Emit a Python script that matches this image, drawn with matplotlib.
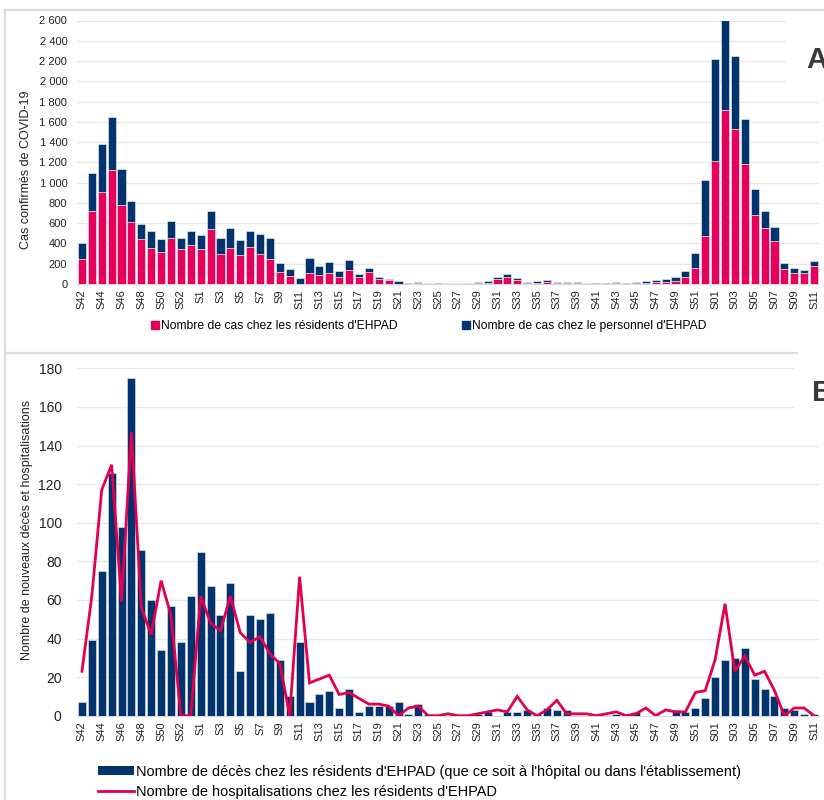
import matplotlib
matplotlib.use("Agg")
import matplotlib.pyplot as plt
from matplotlib.lines import Line2D
from matplotlib.patches import Patch, Rectangle
import numpy as np

plt.rcParams['font.family'] = ['Liberation Sans', 'DejaVu Sans']

weeks = ["S42", "S43", "S44", "S45", "S46", "S47", "S48", "S49", "S50", "S51", "S52", "S53",
         "S1", "S2", "S3", "S4", "S5", "S6", "S7", "S8", "S9", "S10", "S11", "S12", "S13",
         "S14", "S15", "S16", "S17", "S18", "S19", "S20", "S21", "S22", "S23", "S24", "S25",
         "S26", "S27", "S28", "S29", "S30", "S31", "S32", "S33", "S34", "S35", "S36", "S37",
         "S38", "S39", "S40", "S41", "S42", "S43", "S44", "S45", "S46", "S47", "S48", "S49",
         "S50", "S51", "S52",
         "S01", "S02", "S03", "S04", "S05", "S06", "S07", "S08", "S09", "S10", "S11"]

cas_residents = [245, 725, 912, 1125, 777, 615, 441, 355, 313, 451, 349, 385,
                 346, 546, 296, 359, 283, 369, 296, 244, 122, 82, 3, 112, 86,
                 105, 66, 138, 66, 118, 49, 43, 2, 3, 7, 6, 1,
                 5, 7, 8, 5, 10, 46, 66, 42, 11, 14, 24, 14,
                 11, 11, 9, 2, 4, 14, 2, 13, 13, 23, 23, 33,
                 66, 161, 474,
                 1214, 1718, 1534, 1188, 681, 556, 425, 151, 112, 105, 174]

cas_personnel = [155, 375, 473, 520, 353, 208, 149, 165, 134, 168, 102, 142,
                 134, 175, 161, 191, 147, 151, 197, 213, 89, 66, 56, 145, 87,
                 109, 62, 102, 29, 37, 23, 11, 29, 10, 9, 1, 5,
                 1, 7, 6, 13, 15, 23, 29, 19, 12, 14, 16, 9,
                 12, 4, 5, 6, 7, 9, 6, 10, 17, 17, 23, 39,
                 62, 145, 553,
                 1007, 882, 717, 441, 257, 165, 138, 60, 43, 37, 53]

deces = [7, 39, 75, 126, 98, 175, 86, 60, 34, 57, 38, 62,
         85, 67, 52, 69, 23, 52, 50, 53, 29, 10, 38, 7, 11,
         13, 4, 14, 2, 5, 5, 5, 7, 1, 6, 1, 0,
         0, 0, 0, 1, 2, 0, 2, 2, 3, 1, 4, 3,
         3, 0, 0, 1, 0, 1, 0, 2, 0, 0, 0, 3,
         2, 4, 9,
         20, 29, 30, 35, 19, 14, 10, 4, 3, 1, 1]

hospitalisations = [23, 62, 117, 130, 59, 147, 56, 42, 70, 52, 0, 0,
                    62, 48, 44, 62, 43, 38, 41, 32, 27, 0, 72, 17, 19,
                    21, 11, 12, 9, 6, 6, 5, 0, 4, 5, 0, 0,
                    1, 0, 0, 1, 2, 3, 2, 10, 3, 0, 3, 8,
                    1, 1, 1, 0, 1, 2, 0, 1, 4, 0, 3, 2,
                    2, 12, 13,
                    29, 58, 23, 31, 21, 23, 13, 0, 4, 4, 0]

yticks_a = [0, 200, 400, 600, 800, 1000, 1200, 1400, 1600, 1800, 2000, 2200, 2400, 2600]
yticks_b = [0, 20, 40, 60, 80, 100, 120, 140, 160, 180]

PINK = '#E6005C'
NAVY = '#01336E'
LINE_PINK = '#E2004F'
GRID = '#E8E8E8'
TXT = '#222222'

W, H = 824, 800
fig = plt.figure(figsize=(W / 100, H / 100), dpi=100)

def fx(px):
    return px / W

def fy(py):
    return 1 - py / H

x = np.arange(len(weeks))
tick_pos = x[::2]
tick_lab = weeks[::2]

# Panel frames
for (x0, y0, x1, y1) in [(5, 10, 824, 10), (5, 10, 5, 353), (5, 353, 797, 353), (5, 353, 5, 800)]:
    fig.add_artist(Line2D([fx(x0), fx(x1)], [fy(y0), fy(y1)], color='#DCDCDC', lw=1.6))

# ---------- Panel A ----------
axA = fig.add_axes([fx(77), fy(284), fx(819) - fx(77), fy(20.5) - fy(284)])
axA.bar(x, cas_residents, width=0.82, color=PINK, edgecolor='#F4F4F8', linewidth=0.4, zorder=3)
axA.bar(x, cas_personnel, bottom=cas_residents, width=0.82, color=NAVY,
        edgecolor='#F4F4F8', linewidth=0.4, zorder=3)
axA.set_xlim(-0.5, len(weeks) - 0.5)
axA.set_ylim(0, 2600)
axA.set_yticks(yticks_a)
axA.set_yticklabels([f"{v:,}".replace(",", " ") for v in yticks_a], fontsize=8, color=TXT)
axA.set_xticks(tick_pos)
axA.set_xticklabels(tick_lab, rotation=90, fontsize=8, color=TXT)
axA.tick_params(axis='x', length=0, pad=4)
axA.tick_params(axis='y', length=0, pad=7)
axA.grid(axis='y', color=GRID, lw=1, zorder=0)
for s in ['top', 'right', 'left']:
    axA.spines[s].set_visible(False)
axA.spines['bottom'].set_color('#D9D9D9')
axA.set_ylabel("Cas confirmés de COVID-19", fontsize=9, color=TXT)
axA.yaxis.set_label_coords(-0.06, 0.433)

fig.legend([Line2D([], [], marker='s', linestyle='none', color=PINK, markersize=6)],
           ["Nombre de cas chez les résidents d'EHPAD"],
           loc='center left', bbox_to_anchor=(fx(150), fy(326)), frameon=False,
           fontsize=8.75, handletextpad=0.1, handlelength=0.8, borderpad=0, borderaxespad=0)
fig.legend([Line2D([], [], marker='s', linestyle='none', color=NAVY, markersize=6)],
           ["Nombre de cas chez le personnel d'EHPAD"],
           loc='center left', bbox_to_anchor=(fx(461), fy(326)), frameon=False,
           fontsize=8.75, handletextpad=0.1, handlelength=0.8, borderpad=0, borderaxespad=0)

fig.text(fx(806), fy(60), "A", fontsize=21, fontweight='bold', color='#3A3A3A',
         ha='left', va='center', zorder=5)
fig.add_artist(Rectangle((fx(786), fy(92)), fx(824) - fx(786), fy(14) - fy(92),
                         facecolor='white', edgecolor='none', zorder=4))

# ---------- Panel B ----------
axB = fig.add_axes([fx(77), fy(715.7), fx(819) - fx(77), fy(368.3) - fy(715.7)])
axB.bar(x, deces, width=0.81, color=NAVY, edgecolor='#E8EAF2', linewidth=0.4, zorder=3)
axB.plot(x, hospitalisations, color=LINE_PINK, lw=2, zorder=4, solid_joinstyle='miter')
axB.set_xlim(-0.5, len(weeks) - 0.5)
axB.set_ylim(0, 180)
axB.set_yticks(yticks_b)
axB.set_yticklabels([str(v) for v in yticks_b], fontsize=10, color=TXT)
axB.set_xticks(tick_pos)
axB.set_xticklabels(tick_lab, rotation=90, fontsize=8, color=TXT)
axB.tick_params(axis='x', length=0, pad=4)
axB.tick_params(axis='y', length=0, pad=11)
axB.grid(axis='y', color=GRID, lw=1, zorder=0)
for s in ['top', 'right', 'left']:
    axB.spines[s].set_visible(False)
axB.spines['bottom'].set_color('#D9D9D9')
axB.set_ylabel("Nombre de nouveaux décès et hospitalisations", fontsize=9, color=TXT)
axB.yaxis.set_label_coords(-0.059, 0.535)

handlesB = [Patch(facecolor=NAVY, edgecolor='none'),
            Line2D([], [], color=LINE_PINK, lw=2)]
fig.legend(handlesB, ["Nombre de décès chez les résidents d'EHPAD (que ce soit à l'hôpital ou dans l'établissement)",
                      "Nombre de hospitalisations chez les résidents d'EHPAD"],
           loc='upper left', bbox_to_anchor=(fx(98), fy(765)), ncol=1, frameon=False,
           fontsize=10.45, handletextpad=0.1, handlelength=2.5, handleheight=0.55,
           labelspacing=0.38, borderpad=0, borderaxespad=0)

fig.text(fx(812), fy(393), "B", fontsize=21, fontweight='bold', color='#3A3A3A',
         ha='left', va='center', zorder=5)
fig.add_artist(Rectangle((fx(794), fy(425)), fx(824) - fx(794), fy(358) - fy(425),
                         facecolor='white', edgecolor='none', zorder=4))

fig.savefig("out.png", dpi=100)
